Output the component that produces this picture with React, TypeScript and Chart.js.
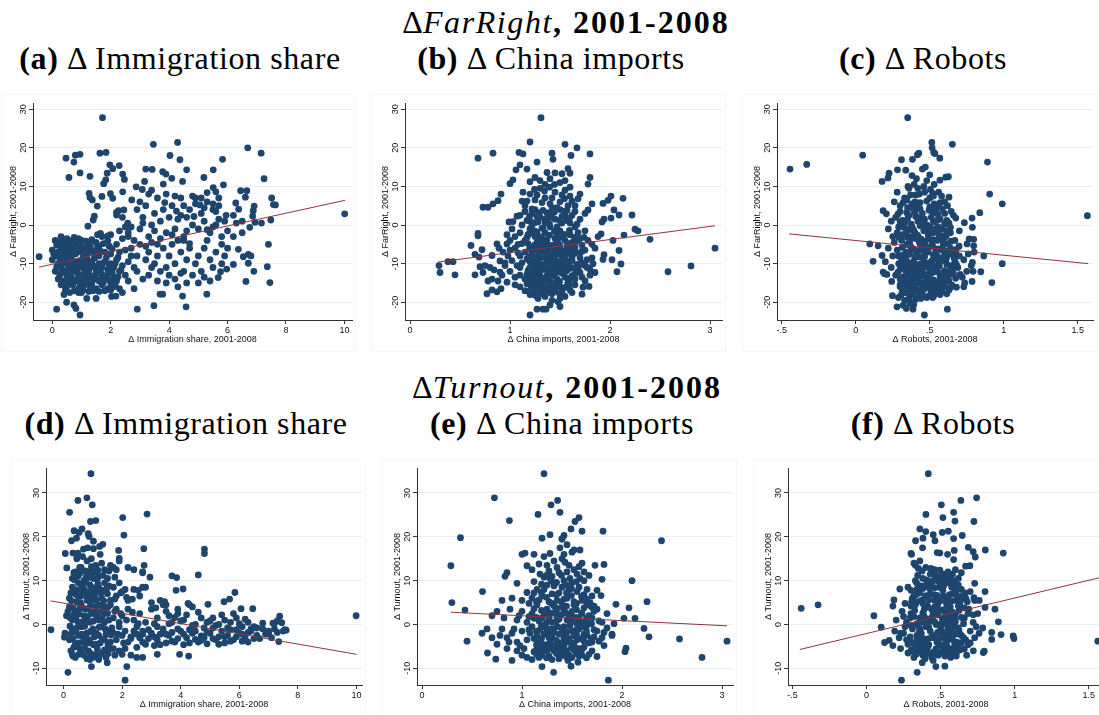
import React, { useEffect, useRef } from 'react';
import { Chart, registerables } from 'chart.js';
Chart.register(...registerables);

type Pt = [number, number];

const NAVY = '#1d456d';
const MAROON = '#90353b';
const AXIS = '#333333';
const GRID = '#e8eff1';
const FONT = '"Liberation Sans", Arial, sans-serif';

// ---------- tick values ----------
const immTicks = [0, 2, 4, 6, 8, 10];
const immTickLabels = ['0', '2', '4', '6', '8', '10'];
const chinaTicks = [0, 1, 2, 3];
const chinaTickLabels = ['0', '1', '2', '3'];
const robotTicks = [-0.5, 0, 0.5, 1, 1.5];
const robotTickLabels = ['-.5', '0', '.5', '1', '1.5'];
const farTicks = [-20, -10, 0, 10, 20, 30];
const turnTicks = [-10, 0, 10, 20, 30];

// ---------- fitted lines ----------
const fitImmFar: Pt[] = [[-0.45, -10.9], [10.02, 6.4]];
const fitChinaFar: Pt[] = [[0.28, -9.6], [3.05, -0.2]];
const fitRobotFar: Pt[] = [[-0.45, -2.3], [1.57, -10.0]];
const fitImmTurn: Pt[] = [[-0.45, 5.4], [10.0, -6.8]];
const fitChinaTurn: Pt[] = [[0.29, 2.8], [3.05, -0.3]];
const fitRobotTurn: Pt[] = [[-0.45, -5.7], [1.6, 10.9]];

// ---------- (a) immigration vs far right ----------
const immFarPts: Pt[] = [
  [1.72,27.8],[3.46,20.9],[4.29,21.4],[6.69,20.0],[7.15,18.6],[7.25,12.0],[10.01,2.9],[0.47,17.3],[0.74,16.3],[0.79,18.1],
  [0.95,18.3],[0.57,12.3],[0.95,13.5],[1.29,12.6],[1.63,18.6],[1.84,18.8],[1.88,13.4],[1.83,11.7],[1.76,10.7],[1.97,15.6],
  [2.07,14.6],[2.29,15.4],[2.41,13.2],[2.47,11.8],[2.41,8.6],[1.99,8.1],[1.26,8.2],[1.29,7.1],[1.37,6.5],[1.54,4.9],
  [1.70,7.4],[2.07,6.9],[1.22,-0.3],[1.40,1.3],[1.44,2.3],[2.20,2.6],[2.27,3.7],[2.45,3.9],[2.58,0.5],[2.72,6.5],
  [2.87,9.9],[3.08,9.2],[3.16,11.3],[3.20,14.5],[3.42,14.4],[3.78,13.8],[3.89,13.2],[4.03,18.0],[4.37,16.9],[4.09,12.1],
  [4.46,11.3],[4.60,14.3],[3.80,10.6],[5.19,12.3],[5.51,14.3],[5.83,17.0],[5.86,10.4],[5.51,9.7],[6.45,8.9],[6.66,8.9],
  [6.61,7.2],[6.28,5.7],[6.38,4.1],[6.20,2.5],[6.91,4.9],[6.88,3.7],[6.86,2.3],[7.16,0.5],[6.94,0.7],[6.76,-0.6],
  [7.48,1.3],[7.51,7.0],[7.57,5.3],[7.64,5.2],[7.40,-5.0],[7.36,-10.8],[7.45,-14.9],[6.63,-14.6],[6.71,-9.9],[6.71,-7.6],
  [6.37,-6.3],[6.54,-8.2],[6.20,-10.2],[5.97,-11.4],[5.68,-13.6],[5.76,-12.1],[5.29,-17.9],[4.46,-18.4],[4.58,-21.2],[3.48,-20.9],
  [2.91,-21.8],[3.69,-17.9],[3.78,-17.9],[2.03,-18.5],[2.18,-18.4],[1.50,-19.0],[1.18,-19.0],[0.15,-21.8],[0.49,-20.0],[0.74,-20.7],
  [0.81,-21.6],[0.95,-23.3],[-0.45,-8.2],
  [0.3,-3],[0.5,-3.5],[0.7,-4],[1.0,-4],[0.2,-4.5],[0.9,-3.5],[1.2,-5],[1.5,-4.5],[1.7,-3],[1.9,-4],[2.0,-2.5],[0.1,-4],
  [0.4,-5],[0.6,-5.5],[0.8,-5],[1.1,-6],[1.3,-5.5],[1.6,-5.5],[2.2,-5],[2.4,-3.5],
  [0.0,-6.5],[0.2,-7],[0.4,-7.5],[0.6,-7],[0.8,-7.5],[1.0,-7],[1.2,-7.5],[1.4,-7],[1.6,-8],[1.8,-7],[2.0,-7.5],[2.3,-7],
  [0.3,-6],[0.7,-6.5],[0.9,-6],[1.5,-6.5],[2.5,-6.5],[2.7,-8],[0.1,-8],[0.5,-8.5],
  [0.0,-9],[0.2,-10],[0.4,-9.5],[0.6,-10.5],[0.8,-9.5],[1.0,-10],[1.2,-9],[1.4,-10.5],[1.6,-10],[1.8,-9.5],[2.0,-10],[2.2,-9],
  [2.4,-10.5],[0.3,-11],[0.5,-10],[0.7,-11.5],[0.9,-11],[1.1,-11.5],[1.3,-11],[1.5,-11.5],[1.7,-11],[1.9,-11.5],[2.1,-11],[2.6,-9.5],[2.8,-11],
  [0.1,-12],[0.3,-12.5],[0.5,-13],[0.7,-12],[0.9,-13],[1.1,-12.5],[1.3,-13.5],[1.5,-12.5],[1.7,-13],[1.9,-12.5],[2.1,-13.5],[2.3,-12],
  [2.5,-13],[0.2,-14],[0.4,-14.5],[0.6,-14],[0.8,-14.5],[1.0,-14],[1.2,-14.5],[1.4,-14],[1.6,-14.5],[1.8,-14],[2.0,-15],[2.2,-14.5],[2.6,-14.5],
  [0.3,-15.5],[0.5,-16],[0.7,-15.5],[0.9,-16.5],[1.1,-15.5],[1.3,-16],[1.5,-16.5],[1.7,-15.5],[1.9,-16.5],[2.1,-16],[2.3,-16.5],
  [0.6,-17.5],[1.0,-17.5],[1.4,-17],[1.8,-17],[2.4,-17.5],[2.8,-16.5],[0.4,-18],[0.9,-17.5],
  [0.45,-11.8],[0.65,-8.8],[0.85,-12.3],[1.05,-8.5],[1.25,-10.2],[1.45,-8.6],[1.15,-13.2],[0.75,-9.8],[0.55,-6.2],[0.35,-8.5],
  [0.15,-5.2],[0.35,-4],[0.55,-4.5],[0.75,-3.2],[0.95,-5],[1.15,-4.2],[1.35,-3.8],[1.55,-5.8],[1.75,-4.8],[1.95,-5.5],
  [0.05,-7.5],[0.25,-8.5],[0.45,-6.5],[0.65,-8],[0.85,-6.8],[1.05,-8.8],[1.25,-6.5],[1.45,-8.2],[1.65,-6.8],[1.85,-8.5],[2.05,-6.2],[2.25,-8.4],
  [0.15,-10.8],[0.35,-9.8],[0.55,-11.5],[0.75,-10.5],[0.95,-9.2],[1.15,-10.5],[1.35,-9.5],[1.55,-10.8],[1.75,-9.8],[1.95,-10.8],[2.15,-10],[2.35,-11.6],
  [0.25,-13.2],[0.45,-12.2],[0.65,-13.5],[0.85,-12],[1.05,-13.2],[1.25,-12.2],[1.45,-13.2],[1.65,-12.2],[1.85,-13.5],[2.05,-12.3],[2.25,-13.4],
  [0.35,-14.8],[0.55,-15.2],[0.75,-14.2],[0.95,-15.2],[1.15,-14.2],[1.35,-15.2],[1.55,-14.2],[1.75,-14.8],[1.95,-14.2],[2.15,-15.2],
  [0.45,-16.8],[0.75,-17],[1.05,-16.8],[1.25,-17.2],[1.6,-17.2],[2.0,-16.8],
  [1.55,-2.5],[1.65,-2.2],[1.9,-2.8],[2.3,-1.5],[2.5,-0.5],[2.4,2.0],[2.2,3.3],[2.6,-3],
  [2.6,-2],[2.8,-4],[3.0,-1],[3.1,2],[3.2,5],[3.3,-3],[3.4,0],[3.5,3],[3.6,-5],[3.7,1],[3.8,4],[3.9,-2],[4.0,2],[4.1,5],
  [4.2,-1],[4.3,1.5],[4.4,7],[4.5,-3],[4.6,2],[4.7,4],[4.8,0],[4.9,7],[5.0,-1],[5.1,3],[5.2,1],[5.3,6],[5.4,-2],[5.5,4],
  [5.6,0],[5.7,5],[5.8,-3],[5.9,1],
  [2.7,-6],[2.9,-8],[3.0,-5],[3.2,-9],[3.3,-7],[3.5,-10],[3.6,-8],[3.8,-6],[3.9,-11],[4.0,-8],[4.1,-5],[4.2,-10],[4.4,-7],
  [4.5,-12],[4.6,-9],[4.7,-6],[4.9,-10],[5.0,-8],[5.1,-12],[5.2,-6],[5.4,-9],[5.5,-11],[5.6,-7],[5.8,-10],[5.9,-8],[6.0,-6],
  [2.9,-12],[3.1,-14],[3.3,-13],[3.4,-11],[3.6,-14.5],[3.7,-12],[3.9,-15],[4.0,-13],[4.2,-14],[4.3,-16],[4.4,-12.5],[4.6,-15],
  [4.8,-13],[5.0,-15],[5.2,-13.5],[5.4,-14.5],
  [2.9,4],[3.0,6],[3.3,8],[3.4,9],[3.6,7],[3.9,8],[4.2,7.5],[4.5,5],[4.8,7.5],[5.1,7],[5.3,8.4],[5.6,8.6],[5.7,7],[3.1,0.5],
  [2.7,-0.5],[4.5,-4],[5.3,-4],[5.8,-5],[6.2,-3],[6.3,0.5],[6.0,-1.5],[6.5,1],[6.5,-2],[5.95,2.5],[6.8,-8],[6.9,-12],[5.5,-0.5],
  [5.7,1.5],[5.6,3.5],[5.5,5.5],[5.2,4.5],[4.9,5.5],[4.6,-1.5],[4.3,-4],[3.5,-1.5],[3.7,-3.5],[4.1,-2.5],[4.4,2.5],[4.7,-4.8],
  [5.3,-1.2],[3.2,-5.5],[3.4,-4.5],[4.85,2.2],[5.05,5.2],[4.25,3.6],[3.85,5.8]
];

// ---------- (b) china imports vs far right ----------
const chinaFarPts: Pt[] = [
  [1.31,27.8],[1.2,21.5],[1.55,20.9],[1.67,20.0],[1.61,18.0],[1.8,18.4],[0.68,17.3],[0.83,18.6],[1.09,18.8],[1.13,18.4],
  [1.42,18.6],[1.43,17.0],[1.27,16.3],[1.0,10.7],[1.03,11.7],[1.06,14.3],[1.1,15.6],[1.17,14.5],[0.73,4.6],[0.78,4.6],
  [0.83,5.5],[0.88,6.3],[0.91,8.0],[0.99,0.8],[1.03,0.9],[0.61,-5.3],[0.68,-2.8],[0.68,-2.2],[0.65,-7.6],[0.69,-8.3],
  [0.72,-6.4],[0.29,-10.5],[0.3,-12.3],[0.38,-9.5],[0.43,-9.5],[0.45,-12.9],[0.65,-12.9],[0.73,-12.3],[0.77,-17.8],[0.82,-16.8],
  [0.87,-17.3],[0.91,-16.5],[0.82,-14.0],[0.84,-11.6],[0.9,-9.3],[0.82,-7.9],[0.87,-4.9],[0.89,-6.0],[0.97,-4.9],[1.0,-6.5],
  [1.2,-23.3],[1.27,-21.8],[1.33,-21.8],[1.36,-21.8],[1.4,-20.7],[1.5,-21.1],[1.48,-19.9],[1.2,-18.0],[1.25,-18.2],[1.72,-17.9],
  [1.73,-16.1],[1.79,-15.9],[1.85,-12.3],[1.93,-8.9],[1.94,-7.7],[2.02,-9.0],[2.07,-12.1],[2.11,-10.1],[2.09,-6.6],[2.03,-4.0],
  [1.91,-2.3],[2.14,-2.6],[2.25,-1.1],[2.28,-1.5],[2.4,-3.7],[2.22,2.6],[2.09,2.6],[2.01,1.8],[1.94,1.5],[1.92,0.8],
  [2.04,3.9],[1.93,5.6],[1.98,6.4],[2.01,7.5],[2.13,6.9],[1.78,3.9],[1.82,5.5],[1.78,10.6],[1.8,12.3],[1.6,13.4],
  [1.58,14.6],[2.58,-12.1],[2.81,-10.6],[3.05,-6.0],[1.72,-6.8],[1.77,-9.0],[1.82,-5.0],[1.8,-13.0],
  [1.15,5],[1.2,8],[1.25,6.5],[1.3,9.5],[1.35,7],[1.4,5.5],[1.45,8.5],[1.5,6],[1.55,9],[1.6,7.5],[1.65,5],[1.3,11.5],
  [1.4,12],[1.45,13.5],[1.35,10.5],[1.5,11],[1.2,11.2],[1.25,12.3],[1.37,13.6],[1.52,13.3],[1.55,11.5],[1.6,9.8],[1.7,8],
  [1.68,6.8],[1.12,6.2],
  [1.1,2.5],[1.15,3.5],[1.2,1],[1.25,4],[1.3,2],[1.35,0.5],[1.4,3],[1.45,1.5],[1.5,4],[1.55,2.5],[1.6,0.5],[1.65,3.5],
  [1.7,1.5],[1.75,3],[1.12,0],[1.28,0.8],[1.42,4.5],[1.58,5],[1.22,3],
  [1.1,-2],[1.15,-4],[1.2,-1],[1.25,-3],[1.3,-4.5],[1.35,-2],[1.4,-0.5],[1.45,-3.5],[1.5,-1.5],[1.55,-4],[1.6,-2.5],
  [1.65,-0.5],[1.7,-3.5],[1.75,-1.5],[1.05,-3],[1.18,-4.8],[1.33,-0.8],[1.48,-4.8],[1.62,-4.5],[1.02,-1],
  [1.05,-6],[1.1,-8],[1.15,-7],[1.2,-9.5],[1.25,-6.5],[1.3,-8.5],[1.35,-5.5],[1.4,-9.5],[1.45,-7],[1.5,-6],[1.55,-9],
  [1.6,-7.5],[1.65,-5.8],[1.7,-8.5],[1.75,-6.5],[1.28,-10],[1.42,-7.8],[1.52,-9.8],[1.38,-6.8],[1.12,-9.8],[0.98,-8],[0.95,-9.8],
  [1.0,-12],[1.05,-13.5],[1.1,-11],[1.15,-14],[1.2,-12.5],[1.25,-10.5],[1.3,-13],[1.35,-11.5],[1.4,-14.5],[1.45,-12],
  [1.5,-10.8],[1.55,-13.5],[1.6,-11.2],[1.65,-14],[1.7,-12.3],[1.75,-10.5],[1.28,-14.8],[1.42,-10.5],[1.58,-14.8],[1.38,-12.8],
  [0.92,-13],[0.97,-14.8],[1.8,-11.5],
  [1.1,-16],[1.15,-17],[1.2,-15.5],[1.25,-17.5],[1.3,-16.2],[1.35,-18.5],[1.4,-15.8],[1.45,-17.2],[1.5,-16],[1.55,-18.5],
  [1.6,-16.8],[1.28,-19],[1.42,-19.5],[1.33,-17.8],[1.05,-15.5],[1.65,-15.5],[1.5,-19],
  [0.75,-10.5],[0.8,-11],[0.9,-12.2],[0.95,-10.5],[0.78,-14.5],[0.7,-10.8],[0.88,-14.5],[0.97,-2.5],[0.93,-7],[1.0,-4],[1.02,-9.2],
  [1.72,-13.5],[1.77,-11],[1.82,-8.5],[1.85,-6],[1.78,-4],[1.88,-3],[1.83,-10],[1.75,-14.5],[1.7,-10.2],
  [1.32,-3.5],[1.38,-8],[1.44,-5.2],[1.48,-11.5],[1.36,-14],[1.22,-7.5],[1.27,-1.8],[1.53,-7.2],[1.47,-2.8],[1.57,-5.5],
  [1.18,-11.8],[1.62,-9.2],[1.33,-15.3],[1.46,-15],[1.23,-13.8],[1.08,-5],[1.68,-2],[1.52,0.5],[1.38,1.8],[1.18,-2.5],
  [1.17,6.2],[1.22,4.2],[1.27,7.8],[1.32,5.8],[1.37,3.2],[1.42,7],[1.47,4.5],[1.52,7.8],[1.57,3.8],[1.62,6.2],
  [1.17,1.2],[1.22,-0.2],[1.27,2.2],[1.32,-0.8],[1.37,1.2],[1.42,2],[1.47,-0.5],[1.52,2.2],[1.57,1.2],[1.62,2.5],[1.67,0.2],
  [1.17,-3.2],[1.22,-5.8],[1.27,-4.5],[1.32,-6],[1.37,-3.8],[1.42,-5.8],[1.47,-4.2],[1.52,-3.2],[1.57,-6.5],[1.62,-5.8],[1.67,-4.2],[1.72,-5.2],
  [1.17,-8.8],[1.22,-10.8],[1.27,-8.2],[1.32,-10.2],[1.37,-9.2],[1.42,-11.5],[1.47,-9.5],[1.52,-8.5],[1.57,-10.5],[1.62,-8.5],[1.67,-10.2],[1.72,-9.8],
  [1.17,-12.8],[1.22,-14.8],[1.27,-12.2],[1.32,-11.5],[1.37,-13.2],[1.42,-12.8],[1.47,-14],[1.52,-12.5],[1.57,-11.8],[1.62,-13.2],[1.67,-12.2],
  [1.17,-15.2],[1.22,-16.8],[1.27,-15.8],[1.32,-17.2],[1.37,-16.6],[1.42,-17.8],[1.47,-15.8],[1.52,-17.5],[1.57,-15.8],[1.62,-17.5],
  [1.07,-10.5],[1.08,-7.2],[1.1,-13],[1.12,-4.8],[1.7,-7.2],[1.68,-11.2],[1.74,-3.2],[1.07,2.3],[1.13,8.5],[1.33,3.8],
  [1.195,-17.2],[1.245,-16.2],[1.295,-17.8],[1.345,-15.6],[1.395,-17.4],[1.445,-16.4],[1.495,-17.8],[1.545,-16.2],[1.595,-15.2],
  [1.195,-14.2],[1.245,-13.4],[1.295,-14.2],[1.345,-13.8],[1.395,-12.2],[1.445,-13.2],[1.495,-14.6],[1.545,-12.2],[1.595,-13.8],[1.645,-12.8],
  [1.195,-11.2],[1.245,-11.8],[1.295,-11.2],[1.345,-10.4],[1.395,-11],[1.445,-10.2],[1.495,-12.2],[1.545,-11],[1.595,-10.4],[1.645,-11.2],
  [1.195,-8.2],[1.245,-9.2],[1.295,-7.2],[1.345,-8.4],[1.395,-7.8],[1.445,-8.6],[1.495,-7.6],[1.545,-8.2],[1.595,-9.4],[1.645,-7.4],
  [1.195,-6.2],[1.245,-5.2],[1.295,-5.8],[1.345,-6.8],[1.395,-5.2],[1.445,-6.4],[1.495,-5.2],[1.545,-6.8],[1.595,-4.8],[1.645,-6.6],
  [1.195,-2.2],[1.245,-1.6],[1.295,-3],[1.345,-4.2],[1.395,-2.6],[1.445,-1.6],[1.495,-3.2],[1.545,-2.4],[1.595,-1.4],[1.645,-3.2],
  [1.195,2.2],[1.245,0.6],[1.295,3.2],[1.345,1.6],[1.395,0.2],[1.445,3.4],[1.495,1.2],[1.545,3.6],[1.595,1.8],
  [1.245,9.2],[1.345,8.8],[1.445,10.5],[1.545,6.8],[1.395,9.8]
];

// ---------- (c) robots vs far right ----------
const robotFarPts: Pt[] = [
  [0.351,27.8],[0.514,21.4],[0.516,20.0],[0.527,18.8],[0.535,18.5],[0.653,20.9],[0.568,17.3],[0.89,16.3],[0.905,8.0],[0.99,5.5],
  [0.99,-10.0],[0.92,-14.9],[1.565,2.4],[-0.444,14.5],[-0.331,15.7],[0.047,18.1],[0.178,11.3],[0.225,13.4],[0.218,12.2],[0.309,16.9],
  [0.338,14.2],[0.282,14.3],[0.383,17.0],[0.417,18.2],[0.426,18.6],[0.353,10.0],[0.608,12.4],[0.626,12.5],[0.569,11.6],[0.095,-4.9],
  [0.117,-9.4],[0.151,-5.4],[0.178,-7.9],[0.185,-12.2],[0.194,-12.6],[0.185,3.7],[0.207,2.9],[0.243,-14.6],[0.248,-18.3],[0.288,-18.8],
  [0.279,-21.2],[0.32,-20.8],[0.342,-21.6],[0.365,-20.3],[0.387,-21.8],[0.392,-20.6],[0.464,-23.3],[0.619,-21.8],[0.527,-18.3],[0.583,-16.6],
  [0.64,-16.2],[0.68,-16.1],[0.73,-16.0],[0.736,-15.0],[0.786,-14.6],[0.793,-12.0],[0.845,-12.1],[0.865,-8.0],[0.788,-9.7],[0.8,-7.0],
  [0.797,-5.4],[0.797,-3.7],[0.766,-3.6],[0.788,-0.6],[0.786,1.8],[0.734,0.6],[0.676,1.8],[0.838,3.2],[0.752,-4.9],[0.698,-5.5],[0.676,-6.4],
  [0.3,5],[0.33,7],[0.36,9.5],[0.4,6],[0.43,8],[0.46,10],[0.5,7],[0.53,5.5],[0.56,8.5],[0.6,6],[0.48,11.5],[0.41,12],
  [0.45,14.5],[0.5,13],[0.47,15],[0.38,12.8],[0.53,10.5],[0.58,7.5],[0.63,7.2],[0.28,8.5],[0.26,6],[0.35,4.5],[0.32,5.8],
  [0.27,2],[0.3,3.5],[0.33,0.5],[0.36,2.5],[0.39,4],[0.42,1],[0.45,3],[0.48,0],[0.51,2],[0.54,4],[0.57,1.5],[0.6,3],
  [0.63,0.5],[0.66,2.5],[0.24,1],[0.29,-0.5],[0.41,4.8],[0.55,4.8],[0.62,5],[0.45,-0.3],
  [0.22,-1],[0.25,-3],[0.28,-2],[0.31,-4],[0.34,-1],[0.37,-3],[0.4,-2],[0.43,-4.5],[0.46,-1.5],[0.49,-3.5],[0.52,-2],
  [0.55,-4],[0.58,-1],[0.61,-3],[0.64,-2],[0.67,-4],[0.7,-1.5],[0.26,-4.5],[0.38,-0.5],[0.5,-0.5],[0.62,-4.8],
  [0.22,-6],[0.25,-8],[0.28,-6.5],[0.31,-9],[0.34,-7],[0.37,-5.5],[0.4,-8.5],[0.43,-6.5],[0.46,-9.5],[0.49,-7],[0.52,-5.5],
  [0.55,-8],[0.58,-6.5],[0.61,-9],[0.64,-7.5],[0.67,-9.5],[0.7,-8],[0.73,-9],[0.32,-10],[0.44,-10],[0.56,-10],[0.68,-10.2],
  [0.2,-9.5],[0.76,-7.5],
  [0.24,-11],[0.27,-13],[0.3,-11.5],[0.33,-14],[0.36,-12],[0.39,-10.8],[0.42,-13.5],[0.45,-11.5],[0.48,-14.5],[0.51,-12.5],
  [0.54,-10.8],[0.57,-13.5],[0.6,-11.8],[0.63,-14.5],[0.66,-12.5],[0.69,-11],[0.72,-13.5],[0.75,-12],[0.35,-15],[0.47,-15],
  [0.59,-15.2],[0.21,-12.8],[0.78,-10.5],
  [0.3,-16],[0.33,-17.5],[0.36,-16.2],[0.39,-18],[0.42,-16.8],[0.45,-17.8],[0.48,-16],[0.51,-17.2],[0.54,-16.5],[0.57,-18],
  [0.6,-15.8],[0.63,-16.8],[0.36,-19.2],[0.44,-19],[0.52,-18.8],[0.38,-20.3],[0.3,-15.5],
  [0.35,-3.2],[0.41,-7.2],[0.47,-5.2],[0.53,-8.8],[0.39,-12.4],[0.5,-10.6],[0.42,-2.8],[0.56,-2.4],[0.33,-8.2],[0.45,-13.2],
  [0.6,-7.8],[0.38,-15.6],[0.5,-15.6],[0.43,1.8],[0.52,3.2],[0.37,7.8],
  [0.315,-2.5],[0.345,-5],[0.375,-1.2],[0.405,-3.5],[0.435,-0.2],[0.465,-4.2],[0.495,-1.8],[0.525,-3.8],[0.555,-0.5],[0.585,-2.8],[0.615,-1.5],[0.645,-4.2],
  [0.315,-7.8],[0.345,-9.5],[0.375,-6.2],[0.405,-10.2],[0.435,-8.2],[0.465,-6.8],[0.495,-9.8],[0.525,-7.8],[0.555,-6.2],[0.585,-9.2],[0.615,-6.8],[0.645,-10.5],[0.675,-7.2],
  [0.285,-12.2],[0.315,-13.5],[0.345,-10.8],[0.375,-13.8],[0.405,-11.8],[0.435,-14.8],[0.465,-12.8],[0.495,-11.2],[0.525,-14.2],[0.555,-12.2],[0.585,-14.8],[0.615,-13.2],[0.645,-11.2],[0.675,-13.8],[0.705,-12.8],
  [0.315,-17],[0.345,-15.8],[0.375,-17.4],[0.405,-15.4],[0.435,-18.2],[0.465,-16.5],[0.495,-18.3],[0.525,-15.6],[0.555,-17.6],[0.585,-16.2],[0.615,-17.8],
  [0.285,2.8],[0.315,1.2],[0.345,3.2],[0.375,0.2],[0.405,2.2],[0.435,4.2],[0.465,1.5],[0.495,3.8],[0.525,0.8],[0.555,2.8],[0.585,4.2],[0.615,1.2],[0.645,3.5],
  [0.345,6.5],[0.405,7.8],[0.465,8.5],[0.525,7.5],[0.435,5.8],[0.395,10.5],[0.505,9.2],
  [0.305,-18.2],[0.33,-19.5],[0.355,-17.8],[0.38,-16.8],[0.405,-19.2],[0.43,-17.2],[0.455,-15.8],[0.48,-18.8],[0.505,-16.6],[0.53,-17.2],[0.555,-15.6],[0.58,-17.2],
  [0.3,-14],[0.325,-15.2],[0.35,-13.2],[0.375,-15.2],[0.4,-14.2],[0.425,-12.6],[0.45,-15.6],[0.475,-13.6],[0.5,-14.2],[0.525,-12.2],[0.55,-14.8],[0.575,-12.6],[0.6,-14.2],[0.625,-12.2],[0.65,-15.6],
  [0.29,-10],[0.315,-11],[0.34,-12.4],[0.365,-10.4],[0.39,-9.4],[0.415,-11.2],[0.44,-12.2],[0.465,-10.8],[0.49,-12.8],[0.515,-10.2],[0.54,-11.8],[0.565,-10.6],[0.59,-12.6],[0.615,-10.2],[0.64,-12.8],[0.665,-11],
  [0.29,-8],[0.315,-5.8],[0.34,-8.8],[0.365,-7.6],[0.39,-6.2],[0.415,-8.2],[0.44,-5.4],[0.465,-8.2],[0.49,-5.8],[0.515,-9.2],[0.54,-6.8],[0.565,-8.6],[0.59,-5.4],[0.615,-8.2],[0.64,-6],[0.665,-8.6],
  [0.29,-3.2],[0.315,-0.5],[0.34,-2.2],[0.365,-4.2],[0.39,-1.2],[0.415,-2.6],[0.44,-3.6],[0.465,-0.8],[0.49,-2.6],[0.515,-4.4],[0.54,-1],[0.565,-3.2],[0.59,-4.2],[0.615,-2.2],[0.64,-0.6],
  [0.3,0.8],[0.35,1.6],[0.4,3.2],[0.45,0.8],[0.5,4.6],[0.55,1.2],[0.6,0.2],[0.38,5.5],[0.48,6.2],[0.57,5.8],[0.42,9.5],[0.52,8.2]
];

// ---------- (d) immigration vs turnout ----------
const immTurnPts: Pt[] = [
  [0.934,34.4],[0.797,28.9],[0.49,28.3],[0.98,27.3],[0.205,25.6],[2.85,25.2],[2.02,24.4],[0.92,23.5],[1.1,23.7],[2.06,20.4],
  [0.63,21.8],[0.53,21.0],[0.36,21.4],[0.84,20.7],[0.87,20.1],[0.27,19.1],[0.44,19.7],[1.02,19.0],[1.34,18.3],[1.23,17.8],
  [1.02,17.3],[0.68,17.2],[0.82,17.5],[0.057,16.2],[0.32,16.3],[0.49,16.3],[2.74,17.3],[1.88,16.9],[1.9,15.1],[4.81,17.2],
  [4.81,16.2],[4.6,11.3],[3.7,11.1],[3.86,10.7],[3.84,7.8],[4.08,8.1],[3.96,-6.8],[4.27,-7.2],[4.93,4.6],[5.48,5.2],
  [5.67,5.8],[5.85,7.3],[6.06,3.6],[6.46,3.6],[7.38,1.9],[7.45,0.4],[7.2,0.3],[7.35,-3.9],[7.6,-1.3],[9.99,2.0],
  [-0.43,-1.2],[0.15,-10.9],[0.95,-9.6],[1.49,-8.7],[2.16,-9.6],[2.1,-12.7],[0.03,-2.9],[0.11,12.9],
  [0.3,10.5],[0.4,12],[0.5,11],[0.6,13],[0.7,10],[0.8,14.5],[0.9,12],[1.0,10.5],[1.1,13.5],[1.2,11],[1.3,14],[1.4,12.5],
  [1.5,10.5],[1.6,13.5],[1.8,12.5],[1.9,14.5],[2.2,13],[2.4,12.5],[2.7,12],[2.75,13.5],[0.45,15],[0.65,15.5],[0.95,15],[1.25,16],[1.7,13],
  [0.2,6],[0.3,8.5],[0.4,7],[0.5,9.5],[0.6,6.5],[0.7,8],[0.8,5.5],[0.9,9],[1.0,7],[1.1,5.5],[1.2,8.5],[1.3,6],[1.4,9.5],
  [1.5,7],[1.6,5.5],[1.7,8.5],[1.8,6.5],[1.9,9.5],[2.0,7.5],[2.2,5.5],[2.4,8],[2.6,6.5],[2.7,8.5],[2.8,8.5],[3.0,5],[0.85,7.5],[1.05,8.2],[2.1,8],
  [0.1,2],[0.2,4],[0.3,1],[0.4,3],[0.5,0.5],[0.6,4.5],[0.7,2],[0.8,3.5],[0.9,0.5],[1.0,2.5],[1.1,4],[1.2,1],[1.3,3],[1.4,0.5],
  [1.5,2.5],[1.6,4.5],[1.7,1.5],[1.8,3.5],[1.9,0.5],[2.0,2],[2.2,3.5],[2.4,1],[2.6,2.5],[2.8,0.5],[3.0,3.5],[3.2,1.5],[3.4,4.5],[3.6,2],[3.3,5.5],
  [0.05,-2],[0.2,-3.5],[0.3,-1],[0.4,-4.5],[0.5,-2.5],[0.6,-0.5],[0.7,-4],[0.8,-2],[0.9,-3.5],[1.0,-1],[1.1,-4.5],[1.2,-2.5],
  [1.3,-0.5],[1.4,-3.5],[1.5,-1.5],[1.6,-4],[1.7,-2],[1.8,-3.5],[1.9,-0.5],[2.0,-2.5],[2.2,-4],[2.4,-1.5],[2.6,-3],[2.8,-4.5],
  [3.0,-2],[3.2,-3.5],[3.4,-1],[3.6,-2.5],[3.8,-4],[4.0,-1.5],[4.2,-3],[4.4,-2],[4.6,-4],[4.8,-3],[5.0,-2],[5.2,-3.5],[5.4,-1.5],
  [5.6,-2.5],[5.8,-3.5],[6.0,-2],[6.2,-3],[6.4,-1.5],[6.6,-2.5],[6.8,-1],[7.0,-2],[7.2,-1],
  [0.25,-6],[0.4,-7.5],[0.55,-5.5],[0.7,-7],[0.85,-6],[1.0,-7.5],[1.15,-5.5],[1.3,-6.5],[1.45,-7.5],[1.6,-5.5],[1.75,-7],
  [1.9,-6],[2.3,-7],[2.5,-7.5],[2.7,-7.5],[3.2,-6.8],[2.1,-5.5],[0.35,-5.2],[0.9,-8],[1.2,-8],
  [3.5,3],[3.7,0.5],[3.9,2.5],[4.1,1],[4.3,4.5],[4.5,0],[4.7,1.5],[4.9,0.5],[5.1,1.5],[5.3,0],[5.5,1],[5.7,0.5],[5.9,1.5],
  [6.1,-0.5],[6.3,0.5],[6.6,-0.8],[7.0,-1.5],[7.15,0.3],[7.3,0.8],[7.5,-1.5],[7.55,-1.2],[3.15,3.8],[4.25,4.8],[4.4,4],[3.45,5.2],[3.9,3.5],
  [2.55,7.8],[2.7,11.8],[2.95,10.8],[3.5,4.5],
  [3.1,-4.8],[3.3,-2.2],[3.5,-4.2],[3.7,-1.8],[3.9,-3.2],[4.1,-4.6],[4.3,-1.2],[4.5,-3.4],[4.7,-2.6],[4.9,-4.4],[5.1,-0.8],
  [5.3,-2.8],[5.5,-4.2],[5.7,-1.2],[5.9,-2.8],[6.1,-3.8],[6.3,-1.8],[6.5,-3.2],[2.5,-5.2],[2.9,-3.2],[3.1,0.2],[2.7,-1.5],
  [0.25,-2.2],[0.45,-0.8],[0.65,-2.8],[0.85,-4.2],[1.05,-2.8],[1.25,-4.2],[1.45,-2.2],[1.65,-0.8],[1.85,-2.2],[2.05,-4.2],[2.3,-2.8],[2.5,-0.5],[2.7,-2.2],
  [0.15,3],[0.35,2.2],[0.55,3.6],[0.75,1],[0.95,2.8],[1.15,1.8],[1.35,4.2],[1.55,1],[1.75,3],[1.95,2.5],[2.15,1],[2.35,2.8],[2.55,0.2],
  [0.25,7.2],[0.45,5.2],[0.55,8],[0.75,6.8],[0.95,5.8],[1.15,7.5],[1.35,7.8],[1.55,8.8],[1.75,5.8],[1.95,7.2],[2.15,6.2],[2.35,5.8],
  [0.35,11.8],[0.55,13],[0.75,12.2],[0.95,13.2],[1.15,10.2],[1.35,11.2],[1.55,12.2],[1.75,10.8],[0.65,9.2],[0.85,10.8],[1.05,12],
  [0.3,-6.8],[0.6,-6.5],[0.8,-7.8],[1.1,-6.8],[1.4,-5.8],[1.7,-5.5],[2.0,-6.8],
  [2.1,-1.5],[2.3,-3.2],[2.5,-2.2],[2.7,-4],[2.9,-1.2],[3.1,-2.8],[3.3,-4.6],[3.5,-2.2],[3.7,-3.8],[3.9,-1],[4.1,-2.2],[4.3,-4.2],
  [4.5,-1.5],[4.7,-3.6],[4.9,-1.8],[5.1,-3.2],[5.3,-4.5],[5.5,-2.8],[5.7,-3.8],[5.9,-1.2],[6.1,-2.2],[6.3,-4],[6.5,-0.5],[6.7,-3.2],
  [6.9,-2.2],[7.1,-3],[7.3,-1.8],
  [3.2,-0.5],[3.6,0.2],[4.0,0.8],[4.4,-0.2],[4.8,-0.8],[5.2,-0.2],[5.6,-0.8],[6.0,0.2],[6.4,-1],[6.8,0.3],[5.0,0.8],[5.4,2.2],
  [5.8,2.5],[6.2,1.2],[4.6,2.8],[4.2,2.2],[3.8,1.6],
  [0.22,-0.4],[0.32,-3.2],[0.42,-1.6],[0.52,-4.2],[0.62,-2.2],[0.72,-0.4],[0.82,-3.4],[0.92,-1.6],[1.02,-4.6],[1.12,-2],[1.22,-0.6],
  [1.32,-3.4],[1.42,-1],[1.52,-4.6],[1.62,-2.4],
  [0.22,1.6],[0.32,3.8],[0.42,1.4],[0.52,2.4],[0.62,0.6],[0.72,3.6],[0.82,1.8],[0.92,4.4],[1.02,0.8],[1.12,2.8],[1.22,4.4],[1.32,1.6],[1.42,2.8],[1.52,4],
  [0.27,5.4],[0.37,8],[0.47,6.6],[0.57,5],[0.67,7.2],[0.77,9.6],[0.87,6.2],[0.97,8.4],[1.07,6.2],[1.17,9.2],[1.27,7.2],[1.37,5.4],[1.47,8.2],
  [0.32,-7.2],[0.52,-6.8],[0.72,-5.4],[0.92,-6.6],[1.22,-7.2],[1.52,-6.6],
  [0.37,10.2],[0.57,11.8],[0.77,10.8],[0.97,11.4],[1.17,12.4]
];

// ---------- (e) china imports vs turnout ----------
const chinaTurnPts: Pt[] = [
  [1.22,34.4],[0.724,28.9],[1.356,28.3],[1.29,27.3],[1.38,25.6],[1.16,25.1],[1.57,24.4],[1.53,23.5],[0.874,23.7],[1.49,21.8],
  [1.6,21.3],[1.28,20.5],[1.2,19.7],[1.42,20.3],[1.4,19.5],[1.81,21.3],[0.385,19.8],[2.395,19.1],[0.289,13.4],[0.299,5.0],
  [0.43,3.3],[0.45,-3.8],[0.738,-7.9],[0.655,-6.5],[0.605,7.5],[1.316,-10.9],[1.2,-9.6],[1.49,-9.5],[1.56,-8.6],[1.864,-12.7],
  [2.575,-3.3],[2.8,-7.5],[3.05,-3.8],[2.25,5.2],[2.1,10.0],[2.07,3.8],[2.02,1.4],[2.13,1.4],[2.22,-0.9],[2.27,-2.8],
  [2.04,-5.4],[2.03,-6.2],[1.94,4.6],[1.82,13.7],[1.8,10.3],[1.73,13.5],[1.79,6.6],[1.9,-2.5],
  [1.3,11],[1.35,13],[1.4,15],[1.45,12],[1.5,16.5],[1.55,11.5],[1.6,14],[1.38,17.5],[1.42,16],[1.32,14.5],[1.48,10.5],[1.25,13.5],
  [1.22,15.5],[1.18,11.5],[1.1,12.5],[1.05,13.4],[1.0,16],[1.03,16.3],[1.12,16],[1.52,17],[1.58,17],[1.62,12],[1.28,16.2],[1.45,18.2],[1.4,19.5],
  [1.05,7.3],[1.1,6],[1.15,8],[1.2,6.5],[1.25,9],[1.3,7],[1.35,5.5],[1.4,8.5],[1.45,6],[1.5,9.5],[1.55,7.5],[1.6,5.5],
  [1.65,8],[1.7,6.5],[1.75,7.8],[1.28,10.5],[1.42,10],[1.58,10.5],[1.0,5.5],[0.95,9.4],[0.85,11.8],[0.83,11],[0.9,6],[1.68,5],
  [0.95,1],[1.0,3],[1.05,0.5],[1.1,2.5],[1.15,4.5],[1.2,1.5],[1.25,3.5],[1.3,0.5],[1.35,2],[1.4,4],[1.45,1],[1.5,3],[1.55,0.2],
  [1.6,2.5],[1.65,4.5],[1.7,1.5],[1.75,3.5],[1.8,0.5],[1.85,2.5],[0.88,3.5],[0.8,5.5],[0.75,3],[0.7,2],
  [0.8,-1],[0.85,-3],[0.9,-2],[0.95,-4],[1.0,-1.5],[1.05,-3.5],[1.1,-0.5],[1.15,-2.5],[1.2,-4.5],[1.25,-1],[1.3,-3],[1.35,-0.5],
  [1.4,-2],[1.45,-4],[1.5,-1.5],[1.55,-3.5],[1.6,-0.5],[1.65,-2.5],[1.7,-4],[1.75,-1.5],[1.8,-3],[1.85,-0.8],[1.9,-2.2],[0.7,-3],
  [0.65,-1],[0.75,-4.5],[0.6,-2],
  [0.85,-5.5],[0.95,-6],[1.05,-7.5],[1.15,-5.5],[1.2,-7],[1.25,-6],[1.3,-8],[1.35,-5.5],[1.4,-7],[1.45,-6],[1.5,-7.5],[1.55,-5.5],
  [1.6,-7],[1.7,-6],[1.75,-7.3],[1.1,-8],[0.9,-8.2],[1.0,-7],[1.58,-5.5],
  [1.22,-2.2],[1.32,-1.8],[1.42,-3.2],[1.52,-2.6],[1.28,-4.2],[1.48,-0.2],[1.38,-4.6],[1.18,-1.2],[1.62,-3.8],[1.34,3.8],[1.44,2.6],
  [1.24,2.4],[1.54,1.6],[1.64,0.8],[1.12,1.4],[1.72,-1.2],[1.82,-4.8],[1.92,0.2],[1.36,-6.5],[1.46,-8.2],[0.98,-4.8],[1.08,-2],
  [1.12,9.8],[1.22,10.8],[1.32,9.2],[1.37,11.8],[1.47,13.5],[1.52,12.5],[1.57,13.2],[1.27,12.2],[1.17,13.8],[1.43,14.2],[1.62,10],[1.67,11.2],
  [1.07,4.8],[1.12,7.2],[1.17,5.6],[1.22,8],[1.27,5.2],[1.32,8.8],[1.37,7.2],[1.42,5.8],[1.47,8],[1.52,5.2],[1.57,8.5],[1.62,6.8],[1.72,4.2],
  [1.07,1.8],[1.12,3.6],[1.17,0.8],[1.22,2.6],[1.27,1.5],[1.32,4.2],[1.37,1.2],[1.42,3.2],[1.47,2],[1.52,4.5],[1.57,1.5],[1.62,3.8],
  [1.67,2],[1.72,3],[1.77,0.8],
  [1.07,-1.2],[1.12,-3.2],[1.17,-4],[1.22,-0.5],[1.27,-3],[1.32,-4.8],[1.37,-2.2],[1.42,-0.5],[1.47,-3.2],[1.52,-4.6],[1.57,-1],
  [1.62,-2.2],[1.67,-4.2],[1.72,-2.8],[1.77,-3.8],[1.82,-1.8],
  [1.12,-6.2],[1.17,-7.5],[1.22,-5.2],[1.27,-7.2],[1.32,-6],[1.37,-7.8],[1.42,-5.2],[1.47,-7],[1.52,-5.8],[1.57,-7.2],[1.62,-5.2],[1.67,-6.8],
  [0.92,-1],[0.97,2],[0.87,-4],[1.02,-5.5],[0.82,1.5],[0.78,-2.5],
  [1.145,-6.8],[1.195,-5.8],[1.245,-7.6],[1.295,-5.4],[1.345,-6.6],[1.395,-5.8],[1.445,-7.4],[1.495,-5.2],[1.545,-6.6],[1.595,-5.8],[1.645,-7.6],
  [1.145,-4.6],[1.195,-3.2],[1.245,-4.6],[1.295,-2.2],[1.345,-3.6],[1.395,-4.2],[1.445,-2.6],[1.495,-4.2],[1.545,-2.2],[1.595,-3.2],[1.645,-1.6],[1.695,-3.2],
  [1.145,-1.6],[1.195,-0.2],[1.245,-2.2],[1.295,-1],[1.345,0.8],[1.395,-0.8],[1.445,-1.6],[1.495,0.6],[1.545,-1.2],[1.595,0.4],[1.645,-0.4],[1.695,0.2],
  [1.145,1.6],[1.195,3.2],[1.245,0.4],[1.295,2.6],[1.345,3.2],[1.395,2.2],[1.445,4.2],[1.495,1.8],[1.545,3.4],[1.595,2.6],[1.645,1.4],[1.695,4],
  [1.145,5.2],[1.195,7.2],[1.245,6.2],[1.295,4.8],[1.345,6.8],[1.395,5.2],[1.445,7.2],[1.495,6.6],[1.545,4.8],[1.595,6.4],[1.645,5.8],
  [1.195,9.2],[1.295,10],[1.395,11.2],[1.495,8.2],[1.545,9.8],[1.345,9.6],[1.445,9],[1.245,11.2]
];

// ---------- (f) robots vs turnout ----------
const robotTurnPts: Pt[] = [
  [0.417,34.4],[0.743,28.9],[0.637,28.3],[0.505,27.3],[0.588,25.6],[0.401,25.1],[0.516,24.4],[0.597,23.6],[0.725,23.5],[0.36,21.8],
  [0.4,21.2],[0.552,21.3],[0.511,21.0],[0.45,20.5],[0.646,20.3],[0.381,19.7],[0.588,19.6],[0.462,19.1],[0.331,19.1],[0.378,17.5],
  [0.304,16.0],[0.3,16.2],[0.477,16.4],[0.495,16.3],[0.547,16.0],[0.588,14.8],[0.592,16.9],[0.687,17.6],[0.72,16.6],[0.734,15.4],
  [0.802,17.0],[0.923,16.3],[0.669,13.3],[0.698,13.4],[-0.441,3.7],[-0.327,4.5],[0.05,2.0],[0.099,-0.6],[0.122,-4.1],[0.153,-3.6],
  [0.178,-4.8],[0.185,5.6],[0.178,4.2],[0.225,8.1],[0.236,-12.7],[0.342,-10.9],[0.376,-8.7],[0.468,-9.6],[0.529,-9.5],[0.568,-7.5],
  [0.606,-7.2],[0.676,-7.0],[0.721,-6.0],[0.788,-6.4],[0.795,-6.1],[0.784,-0.8],[0.8,3.9],[0.8,7.5],[0.867,3.5],[0.89,0.6],
  [0.908,-2.3],[0.845,-1.8],[0.845,-3.4],[0.99,-2.6],[0.995,-3.2],[1.561,-3.8],[0.725,6.1],[0.73,9.4],[0.761,5.5],
  [0.33,13.5],[0.36,14.5],[0.4,13],[0.43,11.5],[0.46,12.5],[0.5,11],[0.52,11.5],[0.55,12],[0.58,11.5],[0.6,12.5],[0.38,10.5],
  [0.35,12.8],[0.32,14],[0.48,10],[0.62,10.5],[0.64,11.8],
  [0.28,8.5],[0.31,6],[0.34,8],[0.37,5.5],[0.4,9],[0.43,7],[0.46,5.5],[0.49,8.5],[0.52,6.5],[0.55,9.5],[0.58,7],[0.61,5.5],
  [0.64,8],[0.67,6],[0.7,7.5],[0.73,5.5],[0.45,10],[0.33,10],[0.3,7.8],[0.6,8.5],
  [0.2,1],[0.24,3],[0.27,0.5],[0.3,2.5],[0.33,4.5],[0.36,1.5],[0.39,3.5],[0.42,0.5],[0.45,2.5],[0.48,4.5],[0.51,1.5],[0.54,3.5],
  [0.57,0.5],[0.6,2.5],[0.63,4.5],[0.66,1.5],[0.69,3.5],[0.72,0.5],[0.75,2.5],[0.26,4.8],[0.35,-0.3],[0.47,0],[0.59,-0.2],
  [0.19,-1.5],[0.22,-3],[0.25,-2],[0.28,-4.5],[0.31,-1],[0.34,-3.5],[0.37,-2],[0.4,-4],[0.43,-1.5],[0.46,-3],[0.49,-4.5],[0.52,-2],
  [0.55,-3.5],[0.58,-1],[0.61,-4],[0.64,-2.5],[0.67,-3.5],[0.7,-1.5],[0.73,-3],[0.76,-2],[0.26,-0.5],[0.4,-0.5],[0.55,-0.8],
  [0.23,-5.5],[0.28,-6.5],[0.32,-7.5],[0.35,-5.5],[0.38,-7],[0.41,-6],[0.44,-7.5],[0.47,-5.5],[0.5,-6.5],[0.53,-7.2],[0.56,-5.5],
  [0.59,-6.8],[0.63,-5.8],[0.3,-6],[0.45,-8.2],
  [0.36,-2.8],[0.42,-3.2],[0.48,-1.8],[0.54,-2.6],[0.39,-5.2],[0.51,-4.8],[0.44,1.6],[0.5,3.2],[0.38,0.6],[0.56,1.8],[0.47,6.6],
  [0.41,4.2],[0.53,0.2],[0.33,-5],[0.6,-5],
  [0.295,-2.8],[0.325,-4.8],[0.355,-1.8],[0.385,-3.2],[0.415,-5],[0.445,-2.5],[0.475,-4],[0.505,-1.2],[0.535,-3.8],[0.565,-2.5],
  [0.595,-4.5],[0.625,-1.5],[0.655,-3],[0.685,-4.6],
  [0.295,1.5],[0.325,3.2],[0.355,0.5],[0.385,2.2],[0.415,4],[0.445,1.2],[0.475,3],[0.505,0.2],[0.535,2.5],[0.565,4],[0.595,1.5],
  [0.625,3.2],[0.655,0.2],[0.685,2.5],
  [0.305,5.2],[0.335,6.8],[0.365,8.8],[0.395,6.2],[0.425,8.2],[0.455,6.8],[0.485,5.2],[0.515,7.8],[0.545,5.8],[0.575,8.5],[0.605,6.8],
  [0.635,5.5],[0.665,7.2],
  [0.345,11.2],[0.375,12.2],[0.405,10.2],[0.435,12.8],[0.465,11.2],[0.495,12.4],[0.525,10.2],[0.565,10.8],[0.595,10],
  [0.305,-5.8],[0.335,-6.8],[0.365,-6.2],[0.395,-7.8],[0.425,-6.6],[0.455,-6.2],[0.485,-7],[0.515,-5.6],[0.545,-6.4],[0.575,-5.8],[0.61,-6.2],
  [0.25,1.8],[0.23,-2],[0.27,-3.5],[0.7,-4.2],[0.72,2.2],[0.74,-0.5],[0.68,5.2],
  [0.3,-4],[0.32,-6.2],[0.34,-2.5],[0.36,-4.4],[0.38,-3.6],[0.4,-6.6],[0.42,-4.6],[0.44,-3],[0.46,-6.8],[0.48,-4],[0.5,-3],[0.52,-5.2],
  [0.54,-4.6],[0.56,-6.6],[0.58,-3.4],[0.6,-2.2],[0.62,-5.4],[0.64,-4.2],[0.66,-5.6],
  [0.3,-0.2],[0.32,1.8],[0.34,0.2],[0.36,-1],[0.38,2.6],[0.4,1.4],[0.42,-0.6],[0.44,3.4],[0.46,0.6],[0.48,2.2],[0.5,-0.6],[0.52,3.4],
  [0.54,1],[0.56,-1.4],[0.58,2.8],[0.6,0.6],[0.62,-0.8],[0.64,1.6],[0.66,3.8],
  [0.3,4.2],[0.32,6.6],[0.34,5.2],[0.36,7.2],[0.38,4.8],[0.4,6.6],[0.42,5.6],[0.44,8.6],[0.46,4],[0.48,6.6],[0.5,5.4],[0.52,8.8],
  [0.54,4.8],[0.56,6.8],[0.58,5.4],[0.6,7.6],[0.62,4.2],[0.64,6.4],
  [0.34,9.4],[0.38,8.2],[0.42,9.8],[0.46,8.4],[0.5,9.2],[0.54,10.8],[0.58,9.4],[0.62,9]
];

// ---------- panel layout ----------
interface PanelSpec {
  L: number; T: number; R: number; B: number;
  xMin: number; xMax: number; yMin: number; yMax: number;
  xTicks: number[]; xLabels: string[]; yTicks: number[];
  xTitle: string; yTitle: string;
  pts: Pt[]; fit: Pt[];
  frame: [number, number, number, number];
}

const panels: PanelSpec[] = [
  { L: 33, T: 103, R: 352, B: 320, xMin: -0.66, xMax: 10.26, yMin: -24.6, yMax: 31.6, xTicks: immTicks, xLabels: immTickLabels, yTicks: farTicks,
    xTitle: 'Δ Immigration share, 2001-2008', yTitle: 'Δ FarRight, 2001-2008', pts: immFarPts, fit: fitImmFar, frame: [1, 94, 356, 352] },
  { L: 405, T: 103, R: 722, B: 320, xMin: -0.05, xMax: 3.12, yMin: -24.6, yMax: 31.6, xTicks: chinaTicks, xLabels: chinaTickLabels, yTicks: farTicks,
    xTitle: 'Δ China imports, 2001-2008', yTitle: 'Δ FarRight, 2001-2008', pts: chinaFarPts, fit: fitChinaFar, frame: [371, 94, 726, 352] },
  { L: 777, T: 103, R: 1093, B: 320, xMin: -0.532, xMax: 1.603, yMin: -24.6, yMax: 31.6, xTicks: robotTicks, xLabels: robotTickLabels, yTicks: farTicks,
    xTitle: 'Δ Robots, 2001-2008', yTitle: 'Δ FarRight, 2001-2008', pts: robotFarPts, fit: fitRobotFar, frame: [742, 94, 1097, 352] },
  { L: 46, T: 468, R: 362, B: 685, xMin: -0.6, xMax: 10.19, yMin: -13.8, yMax: 35.7, xTicks: immTicks, xLabels: immTickLabels, yTicks: turnTicks,
    xTitle: 'Δ Immigration share, 2001-2008', yTitle: 'Δ Turnout, 2001-2008', pts: immTurnPts, fit: fitImmTurn, frame: [11, 459, 366, 716] },
  { L: 417, T: 468, R: 733, B: 685, xMin: -0.05, xMax: 3.11, yMin: -13.8, yMax: 35.7, xTicks: chinaTicks, xLabels: chinaTickLabels, yTicks: turnTicks,
    xTitle: 'Δ China imports, 2001-2008', yTitle: 'Δ Turnout, 2001-2008', pts: chinaTurnPts, fit: fitChinaTurn, frame: [382, 459, 737, 716] },
  { L: 788, T: 468, R: 1104, B: 685, xMin: -0.53, xMax: 1.603, yMin: -13.8, yMax: 35.7, xTicks: robotTicks, xLabels: robotTickLabels, yTicks: turnTicks,
    xTitle: 'Δ Robots, 2001-2008', yTitle: 'Δ Turnout, 2001-2008', pts: robotTurnPts, fit: fitRobotTurn, frame: [753, 459, 1110, 716] },
];

const PADL = 30, PADT = 10, PADR = 6, PADB = 28;

const yLabelPlugin = {
  id: 'yRotLabels',
  afterDraw(chart: any) {
    const s = chart.scales.y;
    const ctx = chart.ctx;
    ctx.save();
    ctx.font = `9px ${FONT}`;
    ctx.fillStyle = '#111';
    ctx.textAlign = 'center';
    ctx.textBaseline = 'middle';
    s.ticks.forEach((t: any) => {
      const py = s.getPixelForValue(t.value);
      ctx.save();
      ctx.translate(s.right - 9, py);
      ctx.rotate(-Math.PI / 2);
      ctx.fillText(String(t.value), 0, 0);
      ctx.restore();
    });
    ctx.restore();
  },
};

function Panel({ spec }: { spec: PanelSpec }) {
  const ref = useRef<HTMLCanvasElement>(null);
  const w = spec.R - spec.L + PADL + PADR;
  const h = spec.B - spec.T + PADT + PADB;
  useEffect(() => {
    const chart = new Chart(ref.current as HTMLCanvasElement, {
      type: 'scatter',
      data: {
        datasets: [
          {
            type: 'line',
            data: spec.fit.map(([x, y]) => ({ x, y })),
            borderColor: MAROON,
            borderWidth: 1,
            pointRadius: 0,
            fill: false,
          } as any,
          {
            data: spec.pts.map(([x, y]) => ({ x, y })),
            backgroundColor: NAVY,
            borderColor: NAVY,
            borderWidth: 0,
            pointRadius: 3.4,
          },
        ],
      },
      options: {
        responsive: false,
        animation: false,
        maintainAspectRatio: false,
        layout: { padding: { top: PADT, right: PADR, left: 0, bottom: 0 } },
        plugins: { legend: { display: false }, tooltip: { enabled: false } },
        scales: {
          x: {
            type: 'linear',
            min: spec.xMin,
            max: spec.xMax,
            afterBuildTicks: (s: any) => { s.ticks = spec.xTicks.map((v) => ({ value: v })); },
            afterFit: (s: any) => { s.height = PADB; },
            ticks: {
              autoSkip: false, maxRotation: 0, padding: 1, color: '#111',
              font: { family: FONT, size: 9 },
              callback: (v: any) => { const i = spec.xTicks.indexOf(Number(v)); return i >= 0 ? spec.xLabels[i] : ''; },
            },
            grid: { drawOnChartArea: false, drawTicks: true, tickLength: 4, tickColor: AXIS, color: AXIS },
            border: { display: true, color: AXIS, width: 1 },
            title: { display: true, text: spec.xTitle, color: '#111', font: { family: FONT, size: 9 }, padding: { top: 0, bottom: 3 } },
          },
          y: {
            type: 'linear',
            min: spec.yMin,
            max: spec.yMax,
            afterBuildTicks: (s: any) => { s.ticks = spec.yTicks.map((v) => ({ value: v })); },
            afterFit: (s: any) => { s.width = PADL; },
            ticks: { display: false },
            grid: { color: GRID, drawTicks: true, tickLength: 4, tickColor: AXIS, lineWidth: 1 },
            border: { display: true, color: AXIS, width: 1 },
            title: { display: true, text: spec.yTitle, color: '#111', font: { family: FONT, size: 9 }, padding: { top: 5, bottom: 0 } },
          },
        },
      } as any,
      plugins: [yLabelPlugin],
    });
    return () => chart.destroy();
  }, []);
  const [fx0, fy0, fx1, fy1] = spec.frame;
  return (
    <>
      <div style={{ position: 'absolute', left: fx0, top: fy0, width: fx1 - fx0, height: fy1 - fy0, border: '1px solid #f5f6f7', boxSizing: 'border-box' }} />
      <canvas ref={ref} width={w} height={h}
        style={{ position: 'absolute', left: spec.L - PADL, top: spec.T - PADT, width: w, height: h }} />
    </>
  );
}

const serif = '"Liberation Serif", "Times New Roman", serif';

function Title({ cx, top, size, spacing, children }: { cx: number; top: number; size: number; spacing: number; children: React.ReactNode }) {
  return (
    <div style={{ position: 'absolute', left: cx - 300, top, width: 600, textAlign: 'center', fontFamily: serif, fontSize: size, lineHeight: `${size}px`, letterSpacing: spacing, color: '#000', whiteSpace: 'nowrap' }}>
      {children}
    </div>
  );
}

export default function App() {
  return (
    <div style={{ position: 'absolute', left: 0, top: 0, width: 1099, height: 715, overflow: 'hidden', background: '#fff' }}>
      <Title cx={566} top={6} size={32} spacing={0}>Δ<i style={{ letterSpacing: 1.6 }}>FarRight</i><b style={{ letterSpacing: 2 }}>, 2001-2008</b></Title>
      <Title cx={180} top={42} size={32} spacing={0.6}><b>(a)</b> Δ Immigration share</Title>
      <Title cx={551} top={42} size={32} spacing={0.6}><b>(b)</b> Δ China imports</Title>
      <Title cx={923} top={42} size={32} spacing={0.6}><b>(c)</b> Δ Robots</Title>
      <Title cx={567} top={371} size={32} spacing={0}>Δ<i style={{ letterSpacing: 1.6 }}>Turnout</i><b style={{ letterSpacing: 2 }}>, 2001-2008</b></Title>
      <Title cx={186} top={407} size={32} spacing={0.6}><b>(d)</b> Δ Immigration share</Title>
      <Title cx={562} top={407} size={32} spacing={0.6}><b>(e)</b> Δ China imports</Title>
      <Title cx={933} top={407} size={32} spacing={0.6}><b>(f)</b> Δ Robots</Title>
      {panels.map((p, i) => <Panel key={i} spec={p} />)}
    </div>
  );
}
